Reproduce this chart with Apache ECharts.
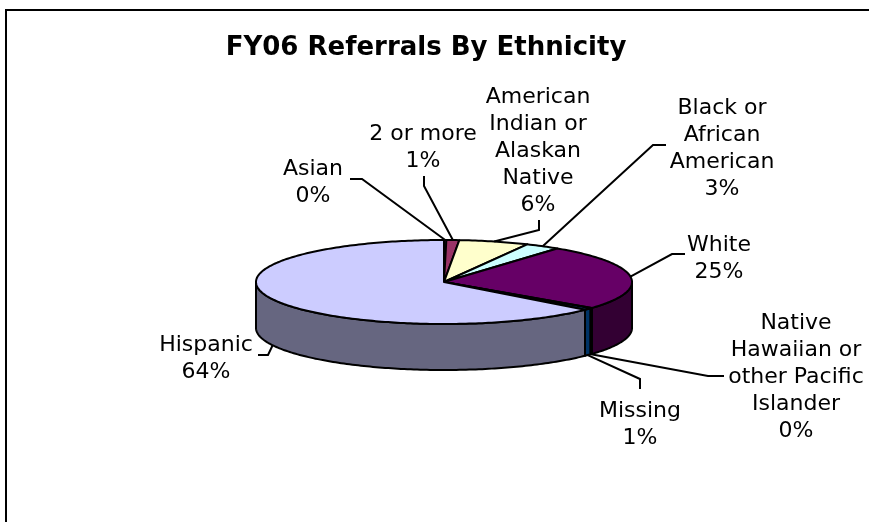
<!DOCTYPE html>
<html>
<head>
<meta charset="utf-8">
<title>FY06 Referrals By Ethnicity</title>
<script src="https://cdn.jsdelivr.net/npm/echarts@6/dist/echarts.min.js"></script>
<style>
  html, body { margin: 0; padding: 0; background: #fff; }
  #chart { width: 869px; height: 522px; }
</style>
</head>
<body>
<div id="chart"></div>
<script>
// data, clockwise from 12 o'clock
const categories = ['Asian', '2 or more', 'American Indian or Alaskan Native', 'Black or African American',
  'White', 'Native Hawaiian or other Pacific Islander', 'Missing', 'Hispanic']
const shares = [0.2, 1.1, 6.0, 3.0, 25.3, 0.2, 0.7, 63.5]
const labelLines = [
  ['Asian'], ['2 or more'], ['American', 'Indian or', 'Alaskan', 'Native'], ['Black or', 'African', 'American'],
  ['White'], ['Native', 'Hawaiian or', 'other Pacific', 'Islander'], ['Missing'], ['Hispanic'],
]
const topColors = ['#9999ff', '#993366', '#ffffcc', '#ccffff', '#660066', '#ff8080', '#0066cc', '#ccccff']
const sideColors = ['#4d4d80', '#4d1a33', '#808066', '#668080', '#330033', '#804040', '#003366', '#666680']

// layout
const PIE = { cx: 444, cy: 282, rx: 188, ry: 42, depth: 46 }
const labelPos = [[313, 183], [423, 147.5], [538, 151], [722, 148.5], [719, 259], [796, 377.5], [640, 424.5], [206, 358.5]]
const leaderElbows = [
  [[350, 179], [362, 179]],
  [[424, 176], [424, 186]],
  [[539, 220], [539, 230]],
  [[666, 145], [653, 145]],
  [[685, 254], [672, 254]],
  [[724, 376], [708, 376]],
  [[640, 389], [640, 379]],
  [[258, 355], [268, 355]],
]
const FONT = 'DejaVu Sans'

const total = shares.reduce((s, v) => s + v, 0)
const starts = []
let acc = 0
shares.forEach((v) => { starts.push(acc); acc += v })

function ellipsePt(t, dy) {
  return [PIE.cx + PIE.rx * Math.sin(t), PIE.cy - PIE.ry * Math.cos(t) + (dy || 0)]
}
function arc(a, b, dy) {
  const pts = []
  const n = Math.max(2, Math.ceil((b - a) / (Math.PI / 180)))
  for (let k = 0; k <= n; k++) pts.push(ellipsePt(a + ((b - a) * k) / n, dy))
  return pts
}

function renderItem(params, api) {
  const i = params.dataIndex
  const a = (api.value(0) / total) * Math.PI * 2
  const b = ((api.value(0) + api.value(1)) / total) * Math.PI * 2
  const children = []

  // front wall
  const s = Math.max(a, Math.PI / 2)
  const e = Math.min(b, Math.PI * 1.5)
  if (s < e) {
    const pts = arc(s, e, 0).concat(arc(s, e, PIE.depth).reverse())
    children.push({
      type: 'polygon', z2: 1,
      shape: { points: pts },
      style: { fill: sideColors[i], stroke: '#000', lineWidth: 2, lineJoin: 'round' },
    })
  }
  // top face
  children.push({
    type: 'polygon', z2: 10,
    shape: { points: [[PIE.cx, PIE.cy]].concat(arc(a, b, 0)) },
    style: { fill: topColors[i], stroke: '#000', lineWidth: 2, lineJoin: 'round' },
  })

  // leader line
  const mid = (a + b) / 2
  const front = mid > Math.PI / 2 && mid < Math.PI * 1.5
  const anchor = ellipsePt(mid, front ? PIE.depth : 0)
  children.push({
    type: 'polyline', z2: 20,
    shape: { points: leaderElbows[i].concat([anchor]) },
    style: { stroke: '#000', lineWidth: 2, fill: null },
  })

  // label
  const pct = Math.round((api.value(1) / total) * 100) + '%'
  children.push({
    type: 'text', z2: 20,
    x: labelPos[i][0], y: labelPos[i][1],
    style: {
      text: labelLines[i].concat([pct]).join('\n'),
      fill: '#000', fontFamily: FONT, fontSize: 22, lineHeight: 27,
      align: 'center', verticalAlign: 'middle',
    },
  })
  return { type: 'group', children }
}

const chart = echarts.init(document.getElementById('chart'))
chart.setOption({
  animation: false,
  backgroundColor: '#fff',
  title: {
    text: 'FY06 Referrals By Ethnicity',
    left: 421, top: 30, textAlign: 'center',
    textStyle: { fontFamily: FONT, fontSize: 26, fontWeight: 'bold', color: '#000' },
  },
  graphic: [{
    type: 'rect', silent: true,
    shape: { x: 6, y: 10, width: 900, height: 600 },
    style: { fill: null, stroke: '#000', lineWidth: 2 },
  }],
  series: [{
    type: 'custom',
    name: 'Referrals',
    coordinateSystem: 'none',
    silent: true,
    data: shares.map((v, i) => ({ name: categories[i], value: [starts[i], v] })),
    renderItem,
  }],
})
</script>
</body>
</html>
